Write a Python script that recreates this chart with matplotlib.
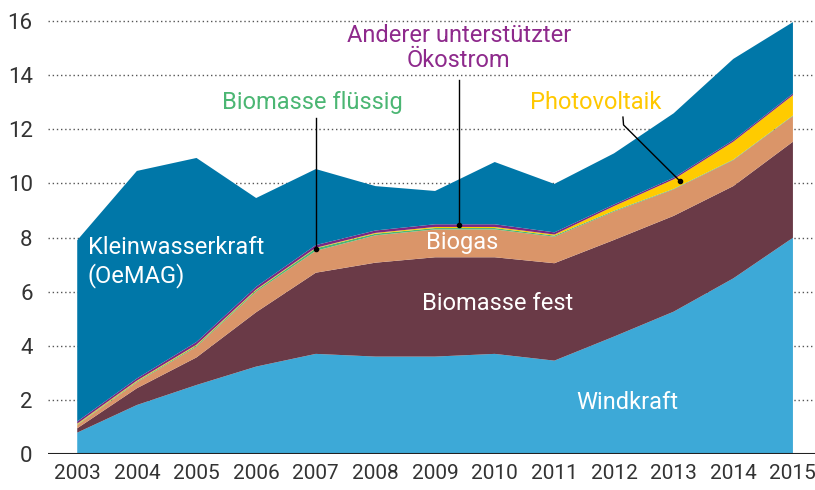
import numpy as np
import matplotlib
matplotlib.use("Agg")
import matplotlib.pyplot as plt

plt.rcParams['font.family'] = ['Roboto', 'DejaVu Sans']

years = np.arange(2003, 2016)
windkraft = [0.79, 1.81, 2.55, 3.23, 3.70, 3.60, 3.60, 3.70, 3.45, 4.34, 5.26, 6.49, 7.99]
biomasse_fest = [0.16, 0.62, 1.02, 2.01, 3.00, 3.47, 3.67, 3.57, 3.60, 3.57, 3.54, 3.41, 3.55]
biogas = [0.12, 0.22, 0.40, 0.76, 0.81, 1.01, 1.03, 1.03, 0.98, 1.05, 0.98, 0.96, 0.95]
biomasse_fluessig = [0.02, 0.03, 0.04, 0.05, 0.09, 0.06, 0.05, 0.05, 0.04, 0.03, 0.02, 0.02, 0.02]
photovoltaik = [0.03, 0.03, 0.03, 0.03, 0.02, 0.03, 0.04, 0.04, 0.04, 0.17, 0.35, 0.66, 0.75]
anderer = [0.08, 0.08, 0.10, 0.10, 0.10, 0.09, 0.10, 0.10, 0.08, 0.06, 0.06, 0.06, 0.06]
kleinwasser = [6.70, 7.67, 6.80, 3.28, 2.81, 1.64, 1.23, 2.30, 1.79, 1.89, 2.38, 3.00, 2.64]

yticks = [0, 2, 4, 6, 8, 10, 12, 14, 16]

series = [windkraft, biomasse_fest, biogas, biomasse_fluessig, photovoltaik, anderer, kleinwasser]
colors = ['#3DA9D7', '#6A3A47', '#DA9569', '#4BB673', '#FFCB00', '#7A2882', '#0077A8']

fig = plt.figure(figsize=(8.15, 4.9), dpi=100)
ax = fig.add_axes([48 / 815, 36 / 490, 1 - 48 / 815, 446.5 / 490])

# dotted grid behind the areas
for t in yticks[1:]:
    ax.axhline(t, color='#555555', lw=1, ls=(0, (1, 2)), zorder=0)

ax.stackplot(years, *series, colors=colors, lw=0, zorder=2)
ax.axhline(0, color='#222222', lw=1.5, zorder=3)

ax.set_xlim(2002.51, 2015.37)
ax.set_ylim(0, 16.5)
ax.set_xticks(years)
ax.set_xticklabels([str(y) for y in years], fontsize=15, color='#333333')
ax.set_yticks(yticks)
ax.set_yticklabels([str(t) for t in yticks], fontsize=16, color='#333333')
ax.tick_params(length=0)
ax.tick_params(axis='y', pad=11)
ax.tick_params(axis='x', pad=7)
for s in ax.spines.values():
    s.set_visible(False)

cum = np.cumsum(np.array(series), axis=0)

# labels inside areas
fs = 17
ax.text(2003.18, 7.1, 'Kleinwasserkraft\n(OeMAG)', color='white', fontsize=fs,
        ha='left', va='center', linespacing=1.2, zorder=5)
ax.text(2010.05, 5.58, 'Biomasse fest', color='white', fontsize=fs, ha='center', va='center', zorder=5)
ax.text(2009.46, 7.80, 'Biogas', color='white', fontsize=fs, ha='center', va='center', zorder=5)
ax.text(2012.23, 1.92, 'Windkraft', color='white', fontsize=fs, ha='center', va='center', zorder=5)

# callouts
x_fl = 2007.0
y_fl = np.interp(x_fl, years, cum[3]) - 0.03
ax.text(2006.94, 13.0, 'Biomasse flüssig', color='#4BB673', fontsize=fs, ha='center', va='center')
ax.plot([x_fl, x_fl], [12.42, y_fl], color='black', lw=1, zorder=6)
ax.plot(x_fl, y_fl, 'o', color='black', ms=3, zorder=6)

x_an = 2009.4
y_an = np.interp(x_an, years, cum[5]) - 0.03
ax.text(2009.40, 15.0, 'Anderer unterstützter\nÖkostrom', color='#8E2A8C', fontsize=fs,
        ha='center', va='center', linespacing=1.15)
ax.plot([x_an, x_an], [13.82, y_an], color='black', lw=1, zorder=6)
ax.plot(x_an, y_an, 'o', color='black', ms=3, zorder=6)

x_pv = 2013.1
y_pv = (np.interp(x_pv, years, cum[4]) + np.interp(x_pv, years, cum[3])) / 2
ax.text(2011.70, 13.0, 'Photovoltaik', color='#FFC800', fontsize=fs, ha='center', va='center')
ax.plot([2012.15, 2012.16, x_pv], [12.45, 12.16, y_pv], color='black', lw=1, zorder=6)
ax.plot(x_pv, y_pv, 'o', color='black', ms=3, zorder=6)

fig.savefig('out.png', dpi=100)
